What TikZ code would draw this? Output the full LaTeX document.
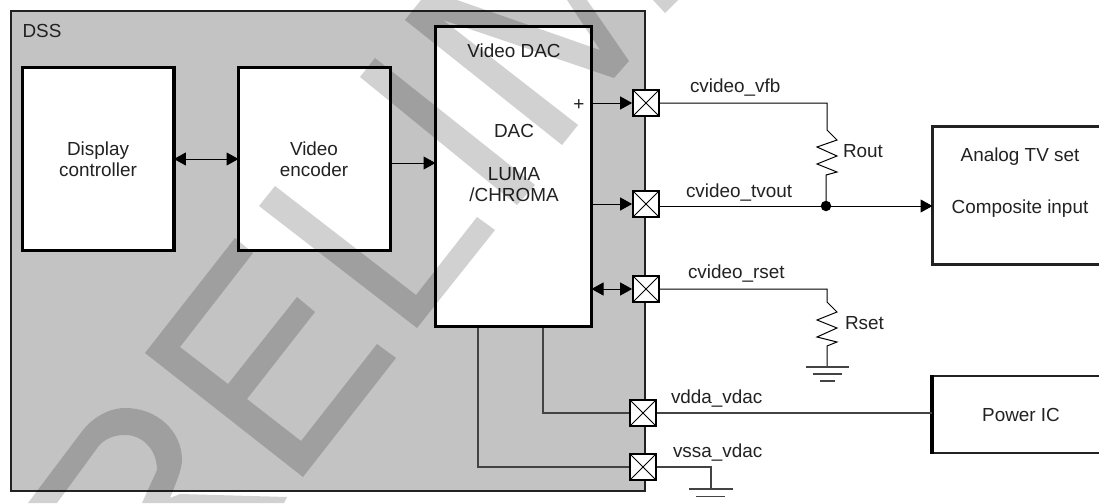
\documentclass[tikz,border=0pt]{standalone}
\usepackage{fontspec}
\setmainfont{Liberation Sans}
\usetikzlibrary{arrows.meta,calc}
\definecolor{ink}{HTML}{222222}
\definecolor{panel}{HTML}{C3C3C3}
\tikzset{
  txt/.style={inner sep=0pt,outer sep=0pt,text=ink,font=\fontsize{18.9}{20.5}\selectfont,align=center,anchor=base},
  ltxt/.style={txt,anchor=base west},
  block/.style={draw=black,fill=white,line width=3.3pt,inner sep=0pt,outer sep=0pt,minimum width=#1},
  padbox/.style={draw=black,fill=white,line width=1.7pt,minimum width=26pt,minimum height=26pt,inner sep=0pt,outer sep=.85pt,
    path picture={\draw[black,line width=.9pt] (path picture bounding box.south west)--(path picture bounding box.north east)
      (path picture bounding box.north west)--(path picture bounding box.south east);}},
  wire/.style={draw=black,line width=1pt},
  wireg/.style={draw=ink!85!white,line width=1.1pt},
  onehead/.style={-{Triangle[length=12pt,width=13pt]}},
  twohead/.style={{Triangle[length=12pt,width=13pt]}-{Triangle[length=12pt,width=13pt]}},
  wmark/.style={fill=black,opacity=.18,draw=none},
  dotnode/.style={circle,fill=black,inner sep=0pt,minimum size=10.5pt},
}
\begin{document}
\begin{tikzpicture}[x=1pt,y=-1pt]
\useasboundingbox (0,0) rectangle (1099,503);
\clip (0,0) rectangle (1099,503);
\fill[white] (0,0) rectangle (1099,503);
% DSS panel
\node[draw=ink,fill=panel,line width=2pt,inner sep=0pt,outer sep=0pt,minimum width=634pt,minimum height=480pt] (dss) at (328,251) {};
\node[ltxt] (dsslabel) at (22.5,37.5) {DSS};
% blocks
\node[block=151.5pt,minimum height=183pt] (dc) at (98.2,159) {};
\node[block=152pt,minimum height=183pt] (ve) at (314.5,159) {};
\node[block=156pt,minimum height=300pt] (dac) at (513.5,176.5) {};
\node[draw=ink,fill=white,line width=3pt,inner sep=0pt,outer sep=0pt,minimum width=175pt,minimum height=137.5pt] (tv) at (1020,195.7) {};
\node[draw=ink,fill=white,line width=2pt,inner sep=0pt,outer sep=0pt,minimum width=175pt,minimum height=77pt] (pw) at (1019,414.5) {};
\draw[black,line width=4pt] ($(pw.south west)+(0.5,1)$) -- ($(pw.north west)+(0.5,-1)$);
% block texts
\node[txt] (t1) at (98,155) {Display};
\node[txt] (t2) at (98,176) {controller};
\node[txt] (t3) at (314,155) {Video};
\node[txt] (t4) at (314,176) {encoder};
\node[txt] (t5) at (514,57) {Video DAC};
\node[txt] (t6) at (514,137) {DAC};
\node[txt] (t7) at (514,180) {LUMA};
\node[txt] (t8) at (514,201) {/CHROMA};
\node[txt] (t9) at (579,110.3) {+};
\node[txt] (t10) at (1020,161) {Analog TV set};
\node[txt] (t11) at (1020,213) {Composite input};
\node[txt] (t12) at (1021,421) {Power IC};
% pads
\node[padbox] (p1) at (646,103) {};
\node[padbox] (p2) at (646,204) {};
\node[padbox] (p3) at (646,289) {};
\node[padbox] (p4) at (643,413) {};
\node[padbox] (p5) at (643,467) {};
% pad labels
\node[ltxt] (l1) at (690,92) {cvideo\_vfb};
\node[ltxt] (l2) at (686,197) {cvideo\_tvout};
\node[ltxt] (l3) at (688,278) {cvideo\_rset};
\node[ltxt] (l4) at (671,403) {vdda\_vdac};
\node[ltxt] (l5) at (673,457) {vssa\_vdac};
\node[ltxt] (l6) at (843,157) {Rout};
\node[ltxt] (l7) at (845,329) {Rset};
% internal connectors
\draw[wire,twohead] (dc.east |- 0,159) -- (ve.west |- 0,159);
\draw[wire,onehead] (ve.east |- 0,163) -- (dac.west |- 0,163);
\draw[wire,onehead] (dac.east |- p1.west) -- (p1.west);
\draw[wire,onehead] (dac.east |- p2.west) -- (p2.west);
\draw[wire,twohead] (dac.east |- p3.west) -- (p3.west);
% output net
\node[dotnode] (j) at (826,206) {};
\draw[wire] (p1.east) -- (827,103) -- (827,130) -- (837,140) -- (817,147) -- (837,156) -- (817,164) -- (837,172) -- (826,175) -- (j.center);
\draw[wire] (p2.east |- j.center) -- (j.center);
\draw[wire,onehead] (j.center) -- (tv.west |- j.center);
% rset
\coordinate (g1) at (827,367);
\draw[wire] (p3.east) -- (827,289) -- (827,302) -- (837,312) -- (817,320) -- (837,328) -- (817,337) -- (837,342) -- (827,346) -- (g1);
\draw[wireg] (806,367) -- (849,367) (813,374) -- (842,374) (820,381) -- (835,381);
% power
\draw[wireg] (543,328) -- (543,413) -- (p4.west);
\draw[wireg] (p4.east) -- (pw.west |- p4.east);
\draw[wireg] (478,328) -- (478,467) -- (p5.west);
\coordinate (g2) at (711,489);
\draw[wireg] (p5.east) -- (711,467) -- (g2);
\draw[wireg] (689,489) -- (733,489) (696,496.5) -- (725,496.5);
% watermark
\fill[wmark] (145,353)--(303,477)--(396,358)--(377,344)--(301,441)--(247,399)--(315,312)--(297,297)--(228,384)--(180,347)--(253,253)--(235,238)--cycle;
\fill[wmark] (259,206)--(275,186)--(416,295)--(477,217)--(495,230)--(417,328)--cycle;
\fill[wmark] (360,77)--(375,58)--(535,185)--(517,205)--cycle;
\fill[wmark] (405,20)--(421,0)--(457,0)--(600,50)--(567,0)--(587,0)--(629,61)--(614,78)--(443,20)--(578,125)--(562,145)--cycle;
\fill[wmark] (653,0)--(678,0)--(676,2)--(665,13)--cycle;
\fill[wmark] (28,503)--(83,430) .. controls (98,412) and (115,408) .. (125,408) .. controls (158,408) and (182,432) .. (182,460) .. controls (182,470) and (175,485) .. (170,498) -- (180,494) -- (287,497) -- (284,503) -- (142,503) -- (157,470) .. controls (157,450) and (143,435) .. (125,435) .. controls (115,435) and (105,438) .. (98,447) -- (57,503) -- cycle;
\end{tikzpicture}
\end{document}
